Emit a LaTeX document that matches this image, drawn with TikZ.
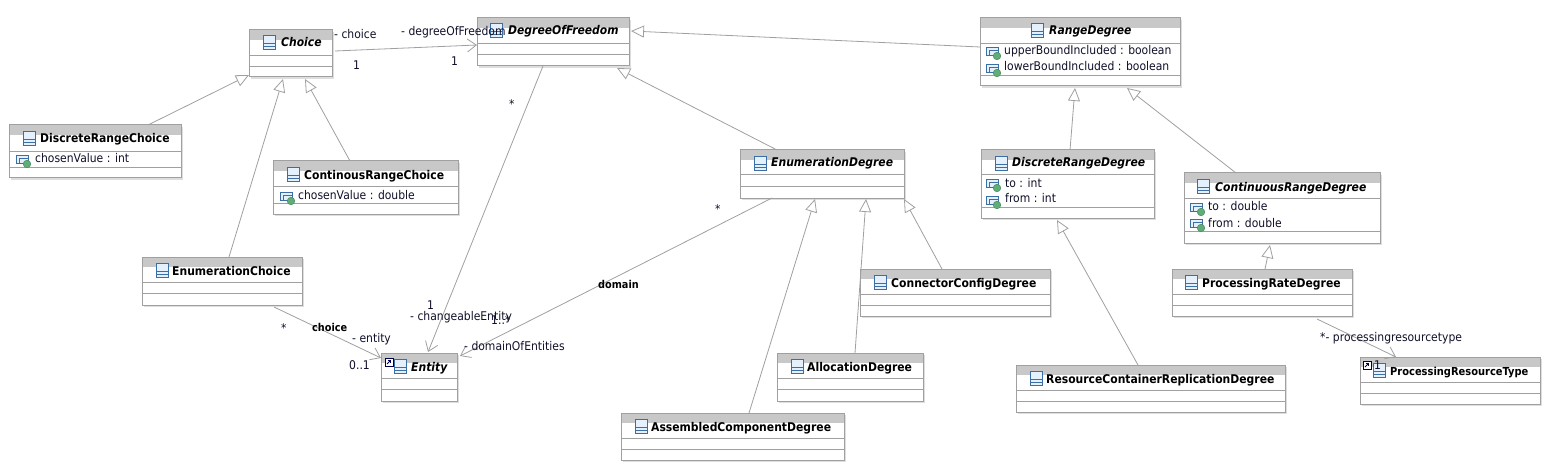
\documentclass[tikz,border=0pt]{standalone}
\usepackage{fontspec}
\setmainfont{DejaVu Sans}[FakeStretch=0.9]
\usetikzlibrary{arrows.meta}
\definecolor{boxline}{HTML}{A0A0A0}
\definecolor{headgray}{HTML}{C8C8C8}
\definecolor{shadowgray}{HTML}{DEDEDE}
\definecolor{iconblue}{HTML}{3A6EA5}
\definecolor{iconfill}{HTML}{E4F0FB}
\definecolor{icongreen}{HTML}{5FAE78}
\definecolor{txtcol}{HTML}{10102A}
\tikzset{
  x=1pt,y=-1pt,
  umlbox/.style={draw=boxline,line width=1pt,fill=white,inner sep=0pt,outer sep=0pt,anchor=north west},
  sepline/.style={draw=boxline,line width=0.8pt},
  titlereg/.style={anchor=base west,inner sep=0pt,font=\fontsize{12}{13}\selectfont\bfseries,text=black},
  titleabs/.style={anchor=base west,inner sep=0pt,font=\fontsize{12}{13}\selectfont\bfseries\itshape,text=black},
  attr/.style={anchor=base west,inner sep=0pt,font=\fontsize{12}{13}\selectfont,text=txtcol},
  lab/.style={anchor=base west,inner sep=0pt,font=\fontsize{12}{13}\selectfont,text=txtcol},
  labb/.style={anchor=base west,inner sep=0pt,font=\fontsize{10.8}{13}\selectfont\bfseries,text=black},
  assoc/.style={draw=boxline,line width=0.8pt,-{Straight Barb[length=9pt,width=13pt,line width=0.8pt]}},
  gen/.style={draw=boxline,line width=0.8pt,-{Triangle[open,fill=white,length=13pt,width=12pt,line width=0.8pt]}},
}
% name x1 y1 x2 y2 sep1 sep2
\newcommand{\umlclass}[7]{%
  \fill[shadowgray] (#2+2,#3+2) rectangle (#4+2,#5+2);
  \node[umlbox,minimum width={(#4-#2)*1pt},minimum height={(#5-#3)*1pt}] (#1) at (#2,#3) {};
  \fill[headgray] (#2+0.5,#3+0.5) rectangle (#4-0.5,#3+10);
  \draw[sepline] (#2,#6) -- (#4,#6);
  \draw[sepline] (#2,#7) -- (#4,#7);
}
\newcommand{\clsicon}[2]{%
  \draw[iconblue,fill=iconfill,line width=0.9pt] (#1,#2) rectangle (#1+12,#2+14);
  \draw[iconblue,line width=0.9pt] (#1,#2+8) -- (#1+12,#2+8) (#1,#2+11) -- (#1+12,#2+11);
}
\newcommand{\attricon}[2]{%
  \draw[iconblue,fill=iconfill,line width=0.8pt] (#1,#2) rectangle (#1+12,#2+8);
  \draw[iconblue,line width=0.8pt] (#1+3,#2+8) -- (#1+3,#2+3) -- (#1+12,#2+3);
  \draw[fill=icongreen,draw=icongreen!80!black,line width=0.5pt] (#1+11,#2+9) circle (3.8);
}
\newcommand{\linkicon}[2]{%
  \draw[black!70!blue,fill=white,line width=0.8pt] (#1,#2) rectangle (#1+8,#2+8);
  \draw[black!70!blue,line width=0.8pt,-{Straight Barb[length=2pt,width=4pt]}] (#1+2,#2+6) -- (#1+6,#2+2);
}
\begin{document}
\begin{tikzpicture}
\useasboundingbox (0,0) rectangle (1554,473);
\fill[white] (0,0) rectangle (1554,473);

\umlclass{Choice}{249}{30}{332}{77}{55}{66}
\umlclass{DoF}{477}{18}{629}{66}{43}{54}
\umlclass{Range}{980}{18}{1180}{86}{43}{75}
\umlclass{DRC}{9}{125}{181}{178}{151}{167}
\umlclass{CRC}{273}{161}{458}{214}{186}{203}
\umlclass{EC}{142}{257}{302}{305}{282}{293}
\umlclass{Entity}{381}{353}{457}{401}{378}{389}
\umlclass{EnumDeg}{740}{150}{904}{198}{174}{186}
\umlclass{DRD}{981}{150}{1154}{218}{174}{207}
\umlclass{CRD}{1184}{173}{1380}{243}{198}{231}
\umlclass{PRD}{1172}{269}{1352}{316}{294}{305}
\umlclass{Conn}{860}{269}{1050}{316}{294}{305}
\umlclass{Alloc}{777}{353}{923}{401}{378}{389}
\umlclass{ACD}{621}{413}{844}{460}{438}{449}
\umlclass{RC}{1016}{365}{1285}{412}{390}{401}
\umlclass{PRT}{1360}{357}{1540}{404}{382}{393}

\clsicon{263}{35}
\clsicon{490}{23}
\clsicon{1031}{23}
\clsicon{23}{131}
\clsicon{287}{167}
\clsicon{156}{263}
\clsicon{394}{359}
\clsicon{754}{156}
\clsicon{995}{156}
\clsicon{1197}{179}
\clsicon{1185}{275}
\clsicon{874}{275}
\clsicon{791}{359}
\clsicon{635}{419}
\clsicon{1030}{371}
\clsicon{1373}{363}
\linkicon{385}{358}
\linkicon{1363}{361}

\attricon{16}{155}
\attricon{280}{192}
\attricon{986}{47}
\attricon{986}{64}
\attricon{986}{179}
\attricon{986}{196}
\attricon{1190}{203}
\attricon{1190}{219}

\node[titleabs] (tChoice) at (281,47) {Choice};
\node[titleabs] (tDoF) at (508,35) {DegreeOfFreedom};
\node[titleabs] (tRange) at (1049,35) {RangeDegree};
\node[titlereg] (tDRC) at (40,143) {DiscreteRangeChoice};
\node[titlereg] (tCRC) at (304,179) {ContinousRangeChoice};
\node[titlereg] (tEC) at (172,275) {EnumerationChoice};
\node[titleabs] (tEntity) at (411,371) {Entity};
\node[titleabs] (tEnumDeg) at (771,167) {EnumerationDegree};
\node[titleabs] (tDRD) at (1012,167) {DiscreteRangeDegree};
\node[titleabs] (tCRD) at (1215,191) {ContinuousRangeDegree};
\node[titlereg] (tPRD) at (1202,287) {ProcessingRateDegree};
\node[titlereg] (tConn) at (891,287) {ConnectorConfigDegree};
\node[titlereg] (tAlloc) at (807,371) {AllocationDegree};
\node[titlereg] (tACD) at (651,431) {AssembledComponentDegree};
\node[titlereg] (tRC) at (1046,383) {ResourceContainerReplicationDegree};
\node[titlereg,font=\fontsize{11}{13}\selectfont\bfseries] (tPRT) at (1390,375) {ProcessingResourceType};

\node[attr] (aDRC) at (35,163) {chosenValue : int};
\node[attr] (aCRC) at (298,199) {chosenValue : double};
\node[attr] (aR1) at (1004,55) {upperBoundIncluded : boolean};
\node[attr] (aR2) at (1004,71) {lowerBoundIncluded : boolean};
\node[attr] (aD1) at (1005,187) {to : int};
\node[attr] (aD2) at (1005,203) {from : int};
\node[attr] (aC1) at (1208,211) {to : double};
\node[attr] (aC2) at (1208,227) {from : double};

% generalisations
\draw[gen] ([shift={(139,0)}]DRC.north west) -- ([shift={(0,45)}]Choice.north west);
\draw[gen] ([shift={(77,0)}]CRC.north west) -- ([shift={(56,49)}]Choice.north west);
\draw[gen] ([shift={(87,0)}]EC.north west) -- ([shift={(34,49)}]Choice.north west);
\draw[gen] ([shift={(37,0)}]EnumDeg.north west) -- ([shift={(140,50)}]DoF.north west);
\draw[gen] ([shift={(0,29)}]Range.north west) -- ([shift={(154,13)}]DoF.north west);
\draw[gen] ([shift={(89,0)}]DRD.north west) -- ([shift={(95,70)}]Range.north west);
\draw[gen] ([shift={(52,0)}]CRD.north west) -- ([shift={(147,70)}]Range.north west);
\draw[gen] ([shift={(128,0)}]ACD.north west) -- ([shift={(75,49)}]EnumDeg.north west);
\draw[gen] ([shift={(78,0)}]Alloc.north west) -- ([shift={(126,49)}]EnumDeg.north west);
\draw[gen] ([shift={(82,0)}]Conn.north west) -- ([shift={(164,49)}]EnumDeg.north west);
\draw[gen] ([shift={(122,0)}]RC.north west) -- ([shift={(76,70)}]DRD.north west);
\draw[gen] ([shift={(93,0)}]PRD.north west) -- ([shift={(86,72)}]CRD.north west);
% associations
\draw[assoc] ([shift={(86,21)}]Choice.north west) -- ([shift={(0,27)}]DoF.north west);
\draw[assoc] ([shift={(132,50)}]EC.north west) -- ([shift={(0,5)}]Entity.north west);
\draw[assoc] ([shift={(66,48)}]DoF.north west) -- ([shift={(47,-1)}]Entity.north west);
\draw[assoc] ([shift={(32,48)}]EnumDeg.north west) -- ([shift={(79,3)}]Entity.north west);
\draw[assoc] ([shift={(145,50)}]PRD.north west) -- ([shift={(36,0)}]PRT.north west);

% labels
\node[lab] (l1) at (334,39) {- choice};
\node[lab] (l2) at (401,36) {- degreeOfFreedom};
\node[lab] (l3) at (353,70) {1};
\node[lab] (l4) at (451,66) {1};
\node[lab] (l5) at (509,109) {*};
\node[lab] (l6) at (427,309) {1};
\node[lab] (l7) at (410,320) {- changeableEntity};
\node[lab] (l8) at (491,324) {1..*};
\node[lab] (l9) at (715,213) {*};
\node[labb] (l10) at (598,288) {domain};
\node[lab] (l11) at (464,350) {- domainOfEntities};
\node[lab] (l12) at (281,332) {*};
\node[labb] (l13) at (312,331) {choice};
\node[lab] (l14) at (352,342) {- entity};
\node[lab] (l15) at (349,369) {0..1};
\node[lab] (l16) at (1320,341) {*- processingresourcetype};
\node[lab] (l17) at (1374,369) {1};
\end{tikzpicture}
\end{document}
